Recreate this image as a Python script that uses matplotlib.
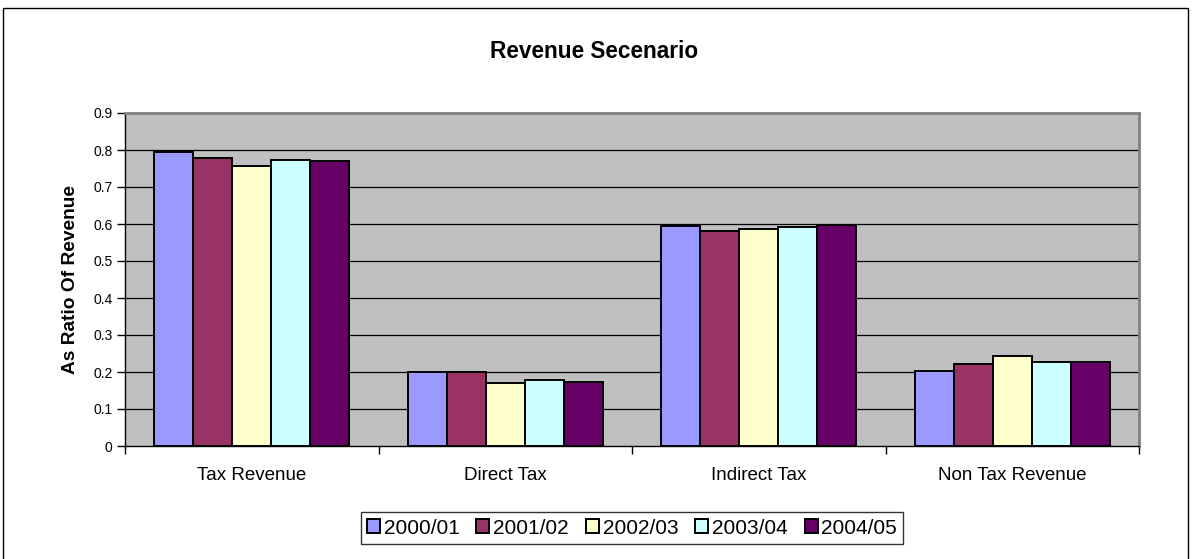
import matplotlib
matplotlib.use("Agg")
import matplotlib.pyplot as plt
from matplotlib.patches import Patch, Rectangle
import numpy as np

plt.rcParams['font.family'] = ['Liberation Sans', 'DejaVu Sans']

categories = ["Tax Revenue", "Direct Tax", "Indirect Tax", "Non Tax Revenue"]
series_names = ["2000/01", "2001/02", "2002/03", "2003/04", "2004/05"]
v2000_01 = [0.795, 0.199, 0.595, 0.204]
v2001_02 = [0.779, 0.199, 0.580, 0.221]
v2002_03 = [0.756, 0.170, 0.587, 0.244]
v2003_04 = [0.772, 0.179, 0.593, 0.226]
v2004_05 = [0.771, 0.174, 0.596, 0.228]
series_values = [v2000_01, v2001_02, v2002_03, v2003_04, v2004_05]
colors = ["#9999FF", "#993366", "#FFFFCC", "#CCFFFF", "#660066"]
yticks = [0, 0.1, 0.2, 0.3, 0.4, 0.5, 0.6, 0.7, 0.8, 0.9]
ytick_labels = ["0", "0.1", "0.2", "0.3", "0.4", "0.5", "0.6", "0.7", "0.8", "0.9"]

W, H = 1192, 559
fig = plt.figure(figsize=(W / 100, H / 100), dpi=100)
fig.patch.set_facecolor("white")

# figure border
fig.add_artist(Rectangle((3 / W, -0.05), (1188 - 3) / W, 1.05 - 8 / H,
                         transform=fig.transFigure, fill=False,
                         edgecolor="black", linewidth=1.0))

left, right, top, bottom = 125, 1139, 113, 446
ax = fig.add_axes([left / W, 1 - bottom / H, (right - left) / W, (bottom - top) / H])
ax.set_facecolor("#C0C0C0")

x = np.arange(len(categories))
bw = 0.1538
for i, (name, vals, c) in enumerate(zip(series_names, series_values, colors)):
    ax.bar(x + (i - 2) * bw, vals, width=bw, color=c, edgecolor="black",
           linewidth=1.4, label=name, zorder=3)

ax.set_xlim(-0.5, len(categories) - 0.5)
ax.set_ylim(0, 0.9)
ax.set_yticks(yticks)
ax.set_yticklabels(ytick_labels, fontsize=10)
for yv in yticks[1:-1]:
    ax.axhline(yv, color="black", linewidth=0.9, zorder=1)

ax.set_xticks(x)
ax.set_xticklabels(categories, fontsize=13.5)
ax.set_xticks(np.arange(-0.5, len(categories), 1.0), minor=True)
ax.tick_params(axis="x", which="major", length=0, pad=15)
ax.tick_params(axis="x", which="minor", length=6, width=1, direction="out", color="black")
ax.tick_params(axis="y", length=6, width=1, direction="out", pad=3)

for s in ["left", "bottom"]:
    ax.spines[s].set_color("black")
    ax.spines[s].set_linewidth(1.0)
for s in ["top", "right"]:
    ax.spines[s].set_color("#808080")
    ax.spines[s].set_linewidth(2.0)

ax.set_ylabel("As Ratio Of Revenue", fontsize=13.8, fontweight="bold", labelpad=10)

fig.text(594 / W, 1 - 51 / H, "Revenue Secenario", ha="center", va="center",
         fontsize=16.3, fontweight="bold")

handles = [Patch(facecolor=c, edgecolor="black", linewidth=1.4) for c in colors]
leg = fig.legend(handles, series_names, loc="center", ncol=5,
                 bbox_to_anchor=(632 / W, 1 - 528 / H), fontsize=15,
                 frameon=True, fancybox=False, edgecolor="black",
                 handlelength=0.62, handleheight=0.62, handletextpad=0.18,
                 columnspacing=0.82, borderpad=0.3, borderaxespad=0)
leg.get_frame().set_linewidth(1.0)

fig.savefig("out.png", dpi=100, facecolor="white")
